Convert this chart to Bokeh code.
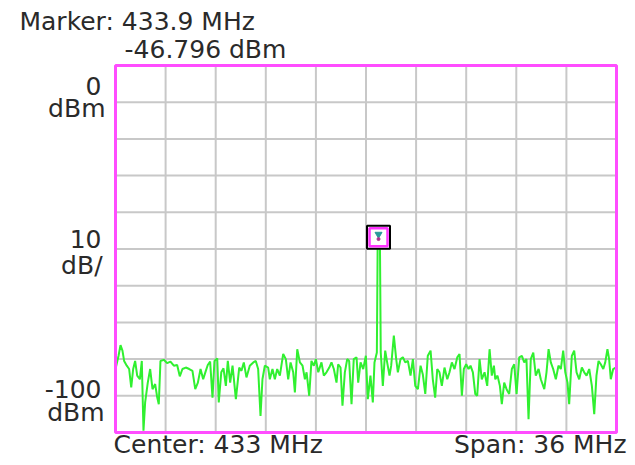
from bokeh.plotting import figure
from bokeh.models import Label
from bokeh.embed import file_html
from bokeh.resources import INLINE

# ---- data ----
freq_mhz = [
    415.0, 415.22, 415.36, 415.5, 415.62, 415.81, 415.98, 416.13, 416.27, 416.41,
    416.56, 416.75, 416.89, 417.01, 417.13, 417.32, 417.49, 417.66, 417.85, 418.0,
    418.11, 418.23, 418.47, 418.71, 418.95, 419.19, 419.43, 419.62, 419.81, 420.05,
    420.3, 420.53, 420.73, 420.92, 421.11, 421.3, 421.49, 421.63, 421.8, 421.97,
    422.11, 422.31, 422.42, 422.6, 422.76, 422.93, 423.07, 423.24, 423.41, 423.65,
    423.89, 424.05, 424.22, 424.41, 424.65, 424.9, 425.08, 425.25, 425.42, 425.56,
    425.73, 425.97, 426.09, 426.28, 426.45, 426.62, 426.81, 427.05, 427.24, 427.41,
    427.58, 427.77, 427.89, 428.06, 428.25, 428.44, 428.61, 428.73, 428.92, 429.08,
    429.25, 429.4, 429.57, 429.8, 429.97, 430.16, 430.36, 430.52, 430.69, 430.88,
    431.0, 431.17, 431.31, 431.48, 431.65, 431.79, 431.96, 432.12, 432.32, 432.44,
    432.61, 432.8, 432.99, 433.13, 433.32, 433.49, 433.61, 433.78, 433.84, 433.9,
    434.0, 434.06, 434.21, 434.38, 434.52, 434.69, 434.81, 435.0, 435.17, 435.29,
    435.48, 435.65, 435.82, 436.01, 436.2, 436.37, 436.54, 436.73, 436.92, 437.08,
    437.26, 437.44, 437.64, 437.8, 437.97, 438.12, 438.28, 438.45, 438.64, 438.84,
    439.0, 439.17, 439.36, 439.56, 439.72, 439.89, 440.03, 440.2, 440.37, 440.51,
    440.68, 440.85, 440.99, 441.16, 441.32, 441.52, 441.71, 441.88, 442.04, 442.19,
    442.29, 442.45, 442.62, 442.76, 442.93, 443.1, 443.29, 443.48, 443.65, 443.82,
    444.01, 444.2, 444.37, 444.53, 444.68, 444.84, 445.02, 445.2, 445.4, 445.56,
    445.81, 445.97, 446.12, 446.28, 446.45, 446.64, 446.83, 447.0, 447.17, 447.32,
    447.48, 447.6, 447.79, 447.96, 448.13, 448.32, 448.51, 448.68, 448.85, 449.04,
    449.23, 449.4, 449.56, 449.71, 449.87, 450.05, 450.19, 450.35, 450.47, 450.59,
    450.76, 450.95,
]
level_dbm = [
    -82.7, -79.1, -76.2, -77.7, -80.5, -81.8, -82.7, -87.7, -82.7, -80.5,
    -84.5, -85.5, -80.5, -99.5, -91.8, -86.4, -82.7, -88.2, -86.8, -90.5,
    -92.3, -80.5, -80.2, -81.1, -80.7, -81.8, -81.6, -84.7, -82.7, -82.3,
    -82.7, -83.2, -88.2, -86.4, -82.7, -85.5, -83.2, -81.6, -80.7, -90.5,
    -80.5, -79.8, -91.8, -83.6, -82.5, -87.3, -80.5, -86.4, -81.8, -90.9,
    -82.3, -83.2, -80.9, -85.0, -81.8, -80.9, -80.5, -82.7, -95.5, -85.5,
    -81.8, -82.3, -85.5, -82.7, -85.5, -82.7, -84.5, -78.6, -80.0, -85.5,
    -80.9, -83.6, -89.1, -77.3, -80.9, -81.8, -85.5, -83.6, -90.0, -80.5,
    -81.8, -80.0, -83.6, -80.9, -84.5, -83.6, -82.3, -80.9, -82.7, -86.4,
    -81.4, -82.3, -92.7, -83.6, -80.0, -80.5, -92.3, -80.0, -79.5, -86.4,
    -80.9, -82.7, -79.1, -90.9, -84.5, -91.8, -80.9, -78.2, -47.5, -46.8,
    -47.5, -78.2, -87.3, -77.7, -80.9, -84.5, -81.8, -73.6, -80.0, -83.6,
    -80.0, -79.5, -80.9, -80.5, -84.5, -80.0, -87.3, -88.2, -81.8, -84.1,
    -89.5, -79.1, -77.7, -85.5, -90.5, -82.7, -83.6, -87.3, -82.3, -85.5,
    -83.6, -80.9, -82.7, -79.5, -78.6, -90.0, -82.7, -81.4, -82.7, -81.8,
    -83.6, -89.5, -90.0, -80.0, -85.5, -83.6, -87.3, -77.3, -84.5, -81.8,
    -85.5, -84.5, -87.3, -92.3, -86.4, -88.2, -89.5, -82.7, -81.4, -89.5,
    -79.5, -79.1, -80.9, -80.0, -96.4, -80.0, -78.2, -84.5, -82.7, -85.5,
    -88.2, -83.6, -77.3, -80.9, -82.7, -85.5, -81.8, -82.7, -77.7, -83.6,
    -86.4, -92.3, -79.1, -77.7, -83.6, -85.5, -82.3, -83.6, -84.5, -82.7,
    -87.3, -95.0, -84.5, -80.5, -81.4, -82.7, -80.9, -77.3, -80.0, -85.5,
    -82.7, -82.3,
]
center_mhz = 433.0
span_mhz = 36.0
ref_level_dbm = 0
scale_db_div = 10
bottom_level_dbm = -100
marker_freq = 433.9
marker_level = -46.796
grid_freqs = [418.6, 422.2, 425.8, 429.4, 433.0, 436.6, 440.2, 443.8, 447.4]
grid_levels = [-10, -20, -30, -40, -50, -60, -70, -80, -90]

x0 = center_mhz - span_mhz / 2
x1 = center_mhz + span_mhz / 2
y0 = bottom_level_dbm
y1 = ref_level_dbm

# the graticule occupies a sub-rectangle of the canvas; the frame spans the whole canvas
W, H = 632, 462
GL, GR, GT, GB = 115, 616, 65, 432          # graticule edges in canvas pixels
mhz_px = (x1 - x0) / (GR - GL)
db_px = (y1 - y0) / (GB - GT)
xr = (x0 - GL * mhz_px, x1 + (W - GR) * mhz_px)
yr = (y0 - (H - GB) * db_px, y1 + GT * db_px)

p = figure(width=W, height=H, x_range=xr, y_range=yr,
           output_backend="svg", toolbar_location=None,
           min_border=0, min_border_left=0, min_border_right=0,
           min_border_top=0, min_border_bottom=0)
p.xaxis.visible = False
p.yaxis.visible = False
p.grid.visible = False
p.outline_line_color = None
p.background_fill_color = "white"
p.border_fill_color = "white"

# grid
p.segment(x0=grid_freqs, y0=[y0] * len(grid_freqs), x1=grid_freqs, y1=[y1] * len(grid_freqs),
          line_color="#c8c8c8", line_width=2)
p.segment(x0=[x0] * len(grid_levels), y0=grid_levels, x1=[x1] * len(grid_levels), y1=grid_levels,
          line_color="#c8c8c8", line_width=2)

p.line(freq_mhz, level_dbm, line_color="#30f030", line_width=2)

# graticule border
p.quad(left=[x0], right=[x1], bottom=[y0], top=[y1], fill_color=None,
       line_color="#ff4dff", line_width=3)

# marker box
p.scatter([marker_freq], [marker_level], marker="square", size=23, fill_color="white",
          line_color="black", line_width=2)
p.scatter([marker_freq], [marker_level], marker="square", size=18, fill_color="white",
          line_color="#ff33ff", line_width=2.5)
p.scatter([marker_freq], [marker_level + 0.8], marker="inverted_triangle", size=7,
          fill_color="#2a9a9a", line_color="#2a9a9a")
p.scatter([marker_freq], [marker_level - 0.5], marker="circle", size=3,
          fill_color="#b03090", line_color="#b03090")

FONT = "DejaVu Sans"
TC = "#2a2a2a"
FS = "25px"


def lab(x, y, text, align="left"):
    p.add_layout(Label(x=x, y=y, text=text, text_font=FONT, text_font_size=FS,
                       text_color=TC, text_align=align, text_baseline="alphabetic"))


lab(408.10, 12.0, f"Marker: {marker_freq} MHz")
lab(415.65, 4.36, f"{marker_level} dBm")
lab(413.99, -5.45, f"{ref_level_dbm}", "right")
lab(414.28, -11.72, "dBm", "right")
lab(413.99, -47.41, f"{scale_db_div}", "right")
lab(414.07, -54.5, "dB/", "right")
lab(413.99, -88.28, f"{bottom_level_dbm}", "right")
lab(414.21, -94.55, "dBm", "right")
lab(414.86, -103.27, f"Center: {center_mhz:g} MHz")
lab(451.72, -103.27, f"Span: {span_mhz:g} MHz", "right")

open("out.html", "w").write(file_html(p, INLINE))
